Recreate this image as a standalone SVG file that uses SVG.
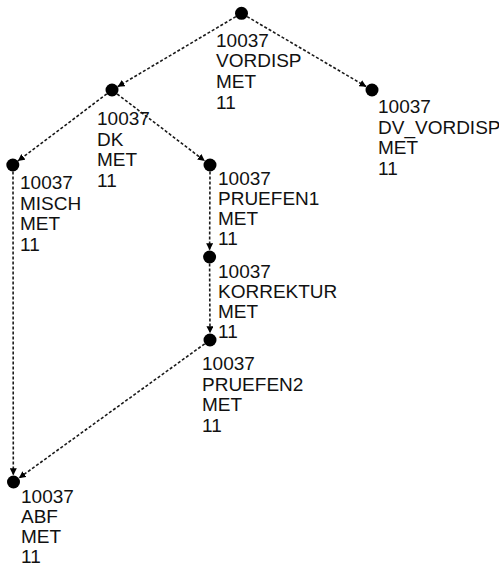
<svg xmlns="http://www.w3.org/2000/svg" width="499" height="566" viewBox="0 0 499 566">
  <style>
    .edge { fill: none; stroke: #1a1a1a; stroke-width: 1.6; stroke-dasharray: 3 2; marker-end: url(#arrow); }
    .dot { fill: #000; }
    .label { font-family: "Liberation Sans", Arial, Helvetica, sans-serif; font-size: 19px; fill: #111; }
  </style>
  <defs>
    <marker id="arrow" markerUnits="userSpaceOnUse" markerWidth="8" markerHeight="7" refX="7" refY="3.5" orient="auto">
      <path d="M0,0 L7,3.5 L0,7 z" fill="#000"/>
    </marker>
  </defs>
  <rect width="499" height="566" fill="#fff"/>

  <g id="connectors">
    <line class="edge" x1="235.9" y1="16.6" x2="117.6" y2="86.7"/>
    <line class="edge" x1="247.1" y1="16.6" x2="366.4" y2="86.7"/>
    <line class="edge" x1="106.8" y1="93.9" x2="17.8" y2="161.1"/>
    <line class="edge" x1="117.2" y1="94.0" x2="204.8" y2="161.0"/>
    <line class="edge" x1="210" y1="171.5" x2="209.6" y2="250.3"/>
    <line class="edge" x1="209.6" y1="263.5" x2="210" y2="333.3"/>
    <line class="edge" x1="204.7" y1="343.8" x2="18.8" y2="478.2"/>
    <line class="edge" x1="13" y1="171.5" x2="13.3" y2="475.3"/>
  </g>

  <g id="node-vordisp">
    <circle class="dot" cx="241.5" cy="13.3" r="6.5"/>
    <text class="label" x="216" y="46.5"><tspan x="216">10037</tspan><tspan x="216" dy="20.8">VORDISP</tspan><tspan x="216" dy="20.8">MET</tspan><tspan x="216" dy="20.8">11</tspan></text>
  </g>
  <g id="node-dv_vordisp">
    <circle class="dot" cx="372" cy="90" r="6.5"/>
    <text class="label" x="378" y="113"><tspan x="378">10037</tspan><tspan x="378" dy="20.5">DV_VORDISP</tspan><tspan x="378" dy="20.5">MET</tspan><tspan x="378" dy="20.5">11</tspan></text>
  </g>
  <g id="node-dk">
    <circle class="dot" cx="112" cy="90" r="6.5"/>
    <text class="label" x="97" y="125"><tspan x="97">10037</tspan><tspan x="97" dy="20.5">DK</tspan><tspan x="97" dy="20.5">MET</tspan><tspan x="97" dy="20.5">11</tspan></text>
  </g>
  <g id="node-misch">
    <circle class="dot" cx="12.8" cy="165" r="6.5"/>
    <text class="label" x="20" y="189"><tspan x="20">10037</tspan><tspan x="20" dy="20.5">MISCH</tspan><tspan x="20" dy="20.5">MET</tspan><tspan x="20" dy="20.5">11</tspan></text>
  </g>
  <g id="node-pruefen1">
    <circle class="dot" cx="210" cy="165" r="6.5"/>
    <text class="label" x="218" y="184.5"><tspan x="218">10037</tspan><tspan x="218" dy="20.3">PRUEFEN1</tspan><tspan x="218" dy="20.3">MET</tspan><tspan x="218" dy="20.3">11</tspan></text>
  </g>
  <g id="node-korrektur">
    <circle class="dot" cx="209.6" cy="257" r="6.5"/>
    <text class="label" x="218" y="278.3"><tspan x="218">10037</tspan><tspan x="218" dy="20">KORREKTUR</tspan><tspan x="218" dy="20">MET</tspan><tspan x="218" dy="20">11</tspan></text>
  </g>
  <g id="node-pruefen2">
    <circle class="dot" cx="210" cy="340" r="6.5"/>
    <text class="label" x="202" y="370"><tspan x="202">10037</tspan><tspan x="202" dy="20.5">PRUEFEN2</tspan><tspan x="202" dy="20.5">MET</tspan><tspan x="202" dy="20.5">11</tspan></text>
  </g>
  <g id="node-abf">
    <circle class="dot" cx="13.5" cy="482" r="6.5"/>
    <text class="label" x="21" y="503"><tspan x="21">10037</tspan><tspan x="21" dy="20">ABF</tspan><tspan x="21" dy="20">MET</tspan><tspan x="21" dy="20">11</tspan></text>
  </g>
</svg>
